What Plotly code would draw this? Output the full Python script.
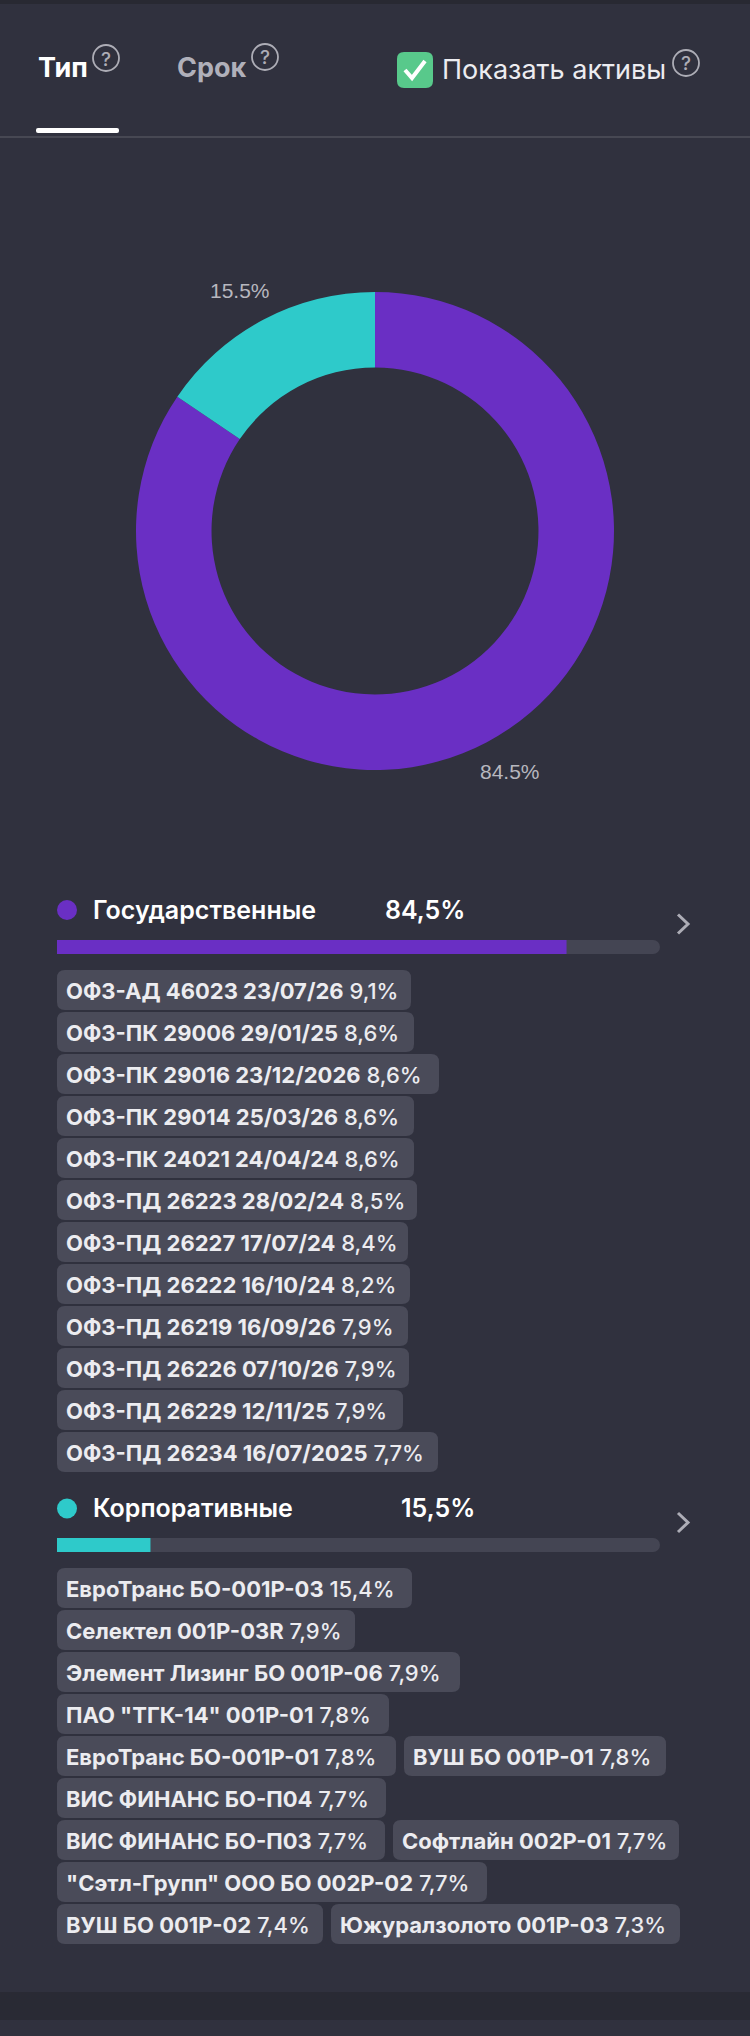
import math
import plotly.graph_objects as go

# ---------------- data ----------------
type_labels = ["Государственные", "Корпоративные"]
type_shares = [84.5, 15.5]

gov_names = [
    "ОФЗ-АД 46023 23/07/26",
    "ОФЗ-ПК 29006 29/01/25",
    "ОФЗ-ПК 29016 23/12/2026",
    "ОФЗ-ПК 29014 25/03/26",
    "ОФЗ-ПК 24021 24/04/24",
    "ОФЗ-ПД 26223 28/02/24",
    "ОФЗ-ПД 26227 17/07/24",
    "ОФЗ-ПД 26222 16/10/24",
    "ОФЗ-ПД 26219 16/09/26",
    "ОФЗ-ПД 26226 07/10/26",
    "ОФЗ-ПД 26229 12/11/25",
    "ОФЗ-ПД 26234 16/07/2025",
]
gov_weights = [9.1, 8.6, 8.6, 8.6, 8.6, 8.5, 8.4, 8.2, 7.9, 7.9, 7.9, 7.7]

corp_names = [
    "ЕвроТранс БО-001P-03",
    "Селектел 001P-03R",
    "Элемент Лизинг БО 001P-06",
    'ПАО "ТГК-14" 001P-01',
    "ЕвроТранс БО-001P-01",
    "ВУШ БО 001P-01",
    "ВИС ФИНАНС БО-П04",
    "ВИС ФИНАНС БО-П03",
    "Софтлайн 002P-01",
    '"Сэтл-Групп" ООО БО 002P-02',
    "ВУШ БО 001P-02",
    "Южуралзолото 001P-03",
]
corp_weights = [15.4, 7.9, 7.9, 7.8, 7.8, 7.8, 7.7, 7.7, 7.7, 7.7, 7.4, 7.3]

tab_labels = ["Тип", "Срок"]
toggle_label = "Показать активы"

# ---------------- styles / layout ----------------
W, H = 750, 2036
BG = "#30313e"
PURPLE = "#6a2fc4"
CYAN = "#2ecaca"
CHIP_BG = "#4a4b59"
TRACK = "#444553"
TEXT = "#ececf0"
GRAY = "#adadb6"
FONT = "Inter, Roboto, sans-serif"

PIE_CX, PIE_CY, PIE_R = 375, 531, 239
LABEL_R = 272

gov_chip_w = [354, 357, 382, 357, 357, 360, 351, 353, 351, 352, 346, 381]
corp_chip_w = [355, 298, 403, 332, 339, 262, 329, 328, 286, 430, 266, 349]


def fx(x):
    return x / W


def fy(y):
    return 1 - y / H


def rr_path(x0, y0, x1, y1, r):
    return (
        f"M {fx(x0 + r)},{fy(y0)} L {fx(x1 - r)},{fy(y0)} "
        f"Q {fx(x1)},{fy(y0)} {fx(x1)},{fy(y0 + r)} L {fx(x1)},{fy(y1 - r)} "
        f"Q {fx(x1)},{fy(y1)} {fx(x1 - r)},{fy(y1)} L {fx(x0 + r)},{fy(y1)} "
        f"Q {fx(x0)},{fy(y1)} {fx(x0)},{fy(y1 - r)} L {fx(x0)},{fy(y0 + r)} "
        f"Q {fx(x0)},{fy(y0)} {fx(x0 + r)},{fy(y0)} Z"
    )


shapes = []
annotations = []


def text(x, y, s, size, color, weight=400, xanchor="left", family=FONT):
    annotations.append(dict(
        x=fx(x), y=fy(y), xref="paper", yref="paper", text=s, showarrow=False,
        xanchor=xanchor, yanchor="middle",
        font=dict(family=family, size=size, color=color, weight=weight),
    ))


def rect(x0, y0, x1, y1, color):
    shapes.append(dict(type="rect", xref="paper", yref="paper",
                       x0=fx(x0), x1=fx(x1), y0=fy(y1), y1=fy(y0),
                       fillcolor=color, line=dict(width=0), layer="below"))


def rrect(x0, y0, x1, y1, r, color):
    shapes.append(dict(type="path", xref="paper", yref="paper",
                       path=rr_path(x0, y0, x1, y1, r),
                       fillcolor=color, line=dict(width=0), layer="below"))


def circle(cx, cy, r, fill=None, line_color=None, lw=0):
    shapes.append(dict(type="circle", xref="paper", yref="paper",
                       x0=fx(cx - r), x1=fx(cx + r), y0=fy(cy + r), y1=fy(cy - r),
                       fillcolor=fill if fill else "rgba(0,0,0,0)",
                       line=dict(width=lw, color=line_color or "rgba(0,0,0,0)")))


def polyline(pts, color, width):
    p = "M " + " L ".join(f"{fx(x)},{fy(y)}" for x, y in pts)
    shapes.append(dict(type="path", xref="paper", yref="paper", path=p,
                       line=dict(color=color, width=width)))


def qicon(cx, cy):
    circle(cx, cy, 13, line_color=GRAY, lw=1.8)
    text(cx, cy + 1, "?", 19, GRAY, 500, xanchor="center")


# header
rect(0, 0, W, 4, "#282932")
text(36, 67.5, tab_labels[0], 27, "#ffffff", 700)
qicon(106, 58)
text(175, 67.5, tab_labels[1], 27, "#b0b0ba", 700)
qicon(265, 57)
rrect(397, 52, 433, 88, 7, "#58c98b")
polyline([(405, 70), (412, 78), (425, 61)], "#ffffff", 4)
text(440, 69.5, toggle_label, 27, TEXT, 400)
qicon(686, 63)
rrect(36, 128, 119, 133, 2, "#ffffff")
rect(0, 136, W, 138, "#474853")

# bottom band
rect(0, 1992, W, 2020, "#292a34")

fig = go.Figure()

# donut
fig.add_trace(go.Pie(
    labels=type_labels, values=type_shares, sort=False,
    direction="counterclockwise", rotation=0, hole=0.684,
    marker=dict(colors=[PURPLE, CYAN], line=dict(width=0)),
    textinfo="none",
    domain=dict(x=[fx(PIE_CX - PIE_R), fx(PIE_CX + PIE_R)],
                y=[fy(PIE_CY + PIE_R), fy(PIE_CY - PIE_R)]),
    showlegend=False, hoverinfo="skip",
))

# outside percentage labels at each slice's mid-angle (slices run clockwise from 12 o'clock)
total = sum(type_shares)
cum = 0.0
for share in type_shares:
    mid = 2 * math.pi * (cum + share / 2) / total
    cum += share
    sx, cy_ = math.sin(mid), math.cos(mid)
    lx = PIE_CX + LABEL_R * sx + 8 * (1 if sx > 0 else -1)
    ly = PIE_CY - LABEL_R * cy_
    text(lx, ly, f"{share:.1f}%", 21, "#b7b7bf", 400, xanchor="center",
         family="Liberation Sans, Arial, sans-serif")

sections = [
    dict(name=type_labels[0], share=type_shares[0], color=PURPLE, head=908,
         pct_x=383, bar=(940, 954), chips_top=970,
         names=gov_names, weights=gov_weights, widths=gov_chip_w, ax="2"),
    dict(name=type_labels[1], share=type_shares[1], color=CYAN, head=1506.5,
         pct_x=399, bar=(1538, 1552), chips_top=1568,
         names=corp_names, weights=corp_weights, widths=corp_chip_w, ax="3"),
]

BAR_X0, BAR_X1 = 57, 660
CHIP_X0, CHIP_X1 = 57, 693
CHIP_H, CHIP_PITCH, CHIP_GAP = 40, 42, 8

layout_axes = {}
for s in sections:
    # header row
    circle(67, s["head"] + 2, 10, fill=s["color"])
    text(91, s["head"] + 1.5, s["name"], 25, "#ffffff", 600)
    text(s["pct_x"], s["head"] + 1.5, f"{s['share']:.1f}%".replace(".", ","), 25, "#ffffff", 600)
    cy = s["head"] + 16
    polyline([(678, cy - 9.5), (688, cy), (678, cy + 9.5)], GRAY, 3)

    # progress bar through its own axis
    ax = s["ax"]
    fig.add_trace(go.Bar(x=[100], y=[0], orientation="h", width=1,
                         marker=dict(color=TRACK, cornerradius="50%", line=dict(width=0)),
                         xaxis="x" + ax, yaxis="y" + ax, showlegend=False, hoverinfo="skip"))
    fig.add_trace(go.Bar(x=[s["share"]], y=[0], orientation="h", width=1,
                         marker=dict(color=s["color"], cornerradius="50%", line=dict(width=0)),
                         xaxis="x" + ax, yaxis="y" + ax, showlegend=False, hoverinfo="skip"))
    y0, y1 = s["bar"]
    layout_axes["xaxis" + ax] = dict(domain=[fx(BAR_X0), fx(BAR_X1)], range=[0, 100],
                                     visible=False, fixedrange=True, anchor="y" + ax)
    layout_axes["yaxis" + ax] = dict(domain=[fy(y1), fy(y0)], range=[-0.5, 0.5],
                                     visible=False, fixedrange=True, anchor="x" + ax)

    # chips (flex-wrap)
    x, row = CHIP_X0, 0
    for name, w_, wd in zip(s["names"], s["weights"], s["widths"]):
        if x > CHIP_X0 and x + wd > CHIP_X1:
            row += 1
            x = CHIP_X0
        top = s["chips_top"] + row * CHIP_PITCH
        rrect(x, top, x + wd, top + CHIP_H, 8, CHIP_BG)
        label = f"<b>{name}</b> {w_:.1f}%".replace(".", ",")
        text(x + 7, top + CHIP_H / 2 + 1, label, 22, TEXT, 500)
        x += wd + CHIP_GAP

fig.update_layout(
    width=W, height=H, margin=dict(l=0, r=0, t=0, b=0),
    paper_bgcolor=BG, plot_bgcolor="rgba(0,0,0,0)",
    barmode="overlay", shapes=shapes, annotations=annotations,
    showlegend=False, **layout_axes,
)

fig.write_html(
    "out.html",
    config={"displayModeBar": False},
    post_script="document.body.style.margin='0';document.body.style.background='" + BG + "';",
)
